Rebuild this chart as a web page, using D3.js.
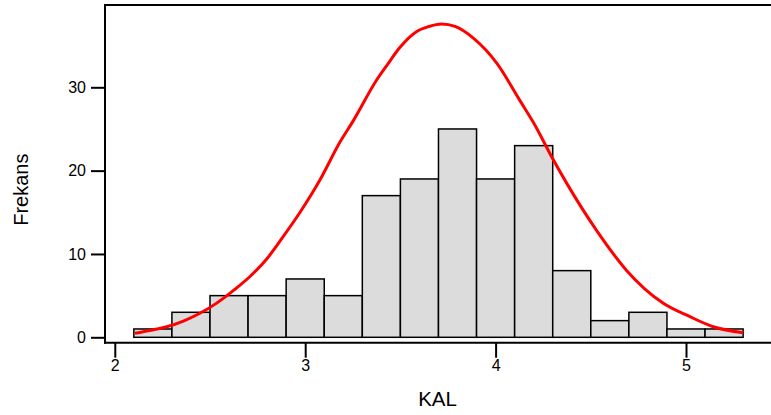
<!DOCTYPE html>
<html>
<head>
<meta charset="utf-8">
<script src="https://cdn.jsdelivr.net/npm/d3@7"></script>
<style>
  html, body { margin: 0; padding: 0; background: #fff; }
  svg { display: block; font-family: "Liberation Sans", Arial, sans-serif; }
</style>
</head>
<body>
<svg id="chart" width="771" height="415"></svg>
<script>
// Histogram bins (start of each bin, width 0.2) and counts
const binStarts = [2.1, 2.3, 2.5, 2.7, 2.9, 3.1, 3.3, 3.5, 3.7, 3.9, 4.1, 4.3, 4.5, 4.7, 4.9, 5.1];
const binCounts = [1, 3, 5, 5, 7, 5, 17, 19, 25, 19, 23, 8, 2, 3, 1, 1];
const binWidth = 0.2;

// Fitted curve points
const curveX = [2.106, 2.19, 2.273, 2.36, 2.447, 2.535, 2.622, 2.71, 2.798, 2.885, 2.973, 3.078, 3.182, 3.253, 3.376, 3.428, 3.498, 3.586, 3.65, 3.717, 3.787, 3.883, 4.006, 4.128, 4.198, 4.303, 4.373, 4.531, 4.689, 4.881, 5.021, 5.143, 5.301];
const curveY = [0.48, 0.85, 1.27, 1.95, 2.88, 4.1, 5.6, 7.3, 9.4, 12.1, 15.0, 18.9, 23.4, 26.0, 30.9, 32.6, 34.8, 36.7, 37.3, 37.6, 37.3, 35.9, 32.9, 28.4, 25.8, 21.3, 18.5, 12.8, 8.0, 4.08, 2.47, 1.27, 0.55];

const xTicks = [2, 3, 4, 5];
const yTicks = [0, 10, 20, 30];
const xTitle = "KAL";
const yTitle = "Frekans";

const svg = d3.select("#chart");

const x = d3.scaleLinear().domain([2, 5]).range([114.8, 686]);
const y = d3.scaleLinear().domain([0, 30]).range([337.3, 87.3]);

const frameLeft = 105, frameTop = 5, frameBottom = 342.7, frameRight = 771;

// Bars
svg.append("g").selectAll("rect")
  .data(binStarts.map((s, i) => ({ s, c: binCounts[i] })))
  .join("rect")
  .attr("x", d => x(d.s))
  .attr("width", d => x(d.s + binWidth) - x(d.s))
  .attr("y", d => y(d.c))
  .attr("height", d => y(0) - y(d.c))
  .attr("fill", "#dcdcdc")
  .attr("stroke", "#000")
  .attr("stroke-width", 1.5);

// Curve
const line = d3.line()
  .x(d => x(d[0]))
  .y(d => y(d[1]))
  .curve(d3.curveMonotoneX);
svg.append("path")
  .datum(curveX.map((v, i) => [v, curveY[i]]))
  .attr("d", line)
  .attr("fill", "none")
  .attr("stroke", "#ff0000")
  .attr("stroke-width", 3)
  .attr("stroke-linejoin", "round");

// Frame lines
const frame = svg.append("g").attr("stroke", "#000").attr("stroke-width", 2);
frame.append("line").attr("x1", frameLeft).attr("x2", frameLeft).attr("y1", frameTop - 1).attr("y2", frameBottom + 1);
frame.append("line").attr("x1", frameLeft - 1).attr("x2", frameRight).attr("y1", frameTop).attr("y2", frameTop);
frame.append("line").attr("x1", frameLeft - 1).attr("x2", frameRight).attr("y1", frameBottom).attr("y2", frameBottom);

// Axes
const yAxis = d3.axisLeft(y).tickValues(yTicks).tickSize(14).tickPadding(5).tickFormat(d3.format("d"));
const gy = svg.append("g").attr("transform", `translate(${frameLeft},0)`).call(yAxis);
gy.select(".domain").remove();
gy.selectAll(".tick line").attr("stroke", "#000").attr("stroke-width", 2);
gy.selectAll(".tick text").attr("font-size", 16).attr("fill", "#000").attr("font-family", "Liberation Sans, Arial, sans-serif");

const xAxis = d3.axisBottom(x).tickValues(xTicks).tickSize(15).tickPadding(2).tickFormat(d3.format("d"));
const gx = svg.append("g").attr("transform", `translate(0,${frameBottom})`).call(xAxis);
gx.select(".domain").remove();
gx.selectAll(".tick line").attr("stroke", "#000").attr("stroke-width", 2);
gx.selectAll(".tick text").attr("font-size", 16).attr("fill", "#000").attr("font-family", "Liberation Sans, Arial, sans-serif");

// Titles
svg.append("text")
  .attr("x", 437.5).attr("y", 406)
  .attr("text-anchor", "middle")
  .attr("font-size", 20.5)
  .attr("fill", "#000")
  .text(xTitle);

svg.append("text")
  .attr("transform", "translate(28,189.7) rotate(-90)")
  .attr("text-anchor", "middle")
  .attr("font-size", 20)
  .attr("fill", "#000")
  .text(yTitle);
</script>
</body>
</html>
